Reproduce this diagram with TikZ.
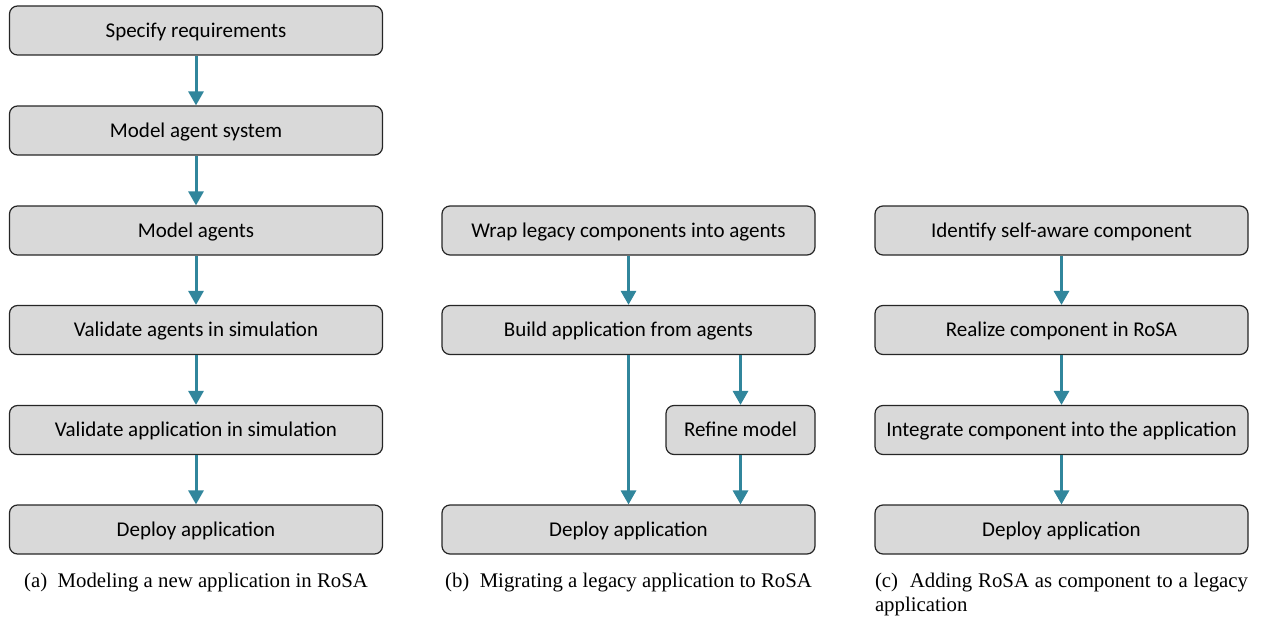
\documentclass[tikz,border=0pt]{standalone}
\usepackage{fontspec}
\setmainfont{Liberation Serif}
\newfontfamily\boxfont{Carlito}
\usepackage{tikz}
\usetikzlibrary{arrows.meta}

\definecolor{flowteal}{RGB}{49,134,156}
\definecolor{boxgray}{RGB}{217,217,217}
\hyphenpenalty=10000

\tikzset{
    stepbox/.style={rectangle, rounded corners=8pt, draw=black!85, line width=1.2pt,
        fill=boxgray, minimum width=373pt, minimum height=49pt, inner sep=0pt,
        text height=16pt, text depth=2.5pt,
        font=\boxfont\fontsize{21}{24}\selectfont},
    flow/.style={draw=flowteal, line width=3pt, -{Triangle[length=14pt, width=15pt]}},
    subcap/.style={font=\fontsize{20.8}{24}\selectfont, inner sep=0pt}
}

\begin{document}
\begin{tikzpicture}[x=1pt, y=-1pt]
            \useasboundingbox (0,0) rectangle (1261,618);

            % Nodes (a)
            \node[stepbox] (a1) at (196, 30.5) {Specify requirements};
            \node[stepbox] (a2) at (196, 130.5) {Model agent system};
            \node[stepbox] (a3) at (196, 230.5) {Model agents};
            \node[stepbox] (a4) at (196, 330) {Validate agents in simulation};
            \node[stepbox] (a5) at (196, 430) {Validate application in simulation};
            \node[stepbox] (a6) at (196, 529.5) {Deploy application};

            % Nodes (b)
            \node[stepbox] (b1) at (628.5, 230.5) {Wrap legacy components into agents};
            \node[stepbox] (b2) at (628.5, 330) {Build application from agents};
            \node[stepbox, minimum width=149pt] (b3) at (740.5, 430) {Refine model};
            \node[stepbox] (b4) at (628.5, 529.5) {Deploy application};

            % Nodes (c)
            \node[stepbox] (c1) at (1061.5, 230.5) {Identify self-aware component};
            \node[stepbox] (c2) at (1061.5, 330) {Realize component in RoSA};
            \node[stepbox] (c3) at (1061.5, 430) {Integrate component into the application};
            \node[stepbox] (c4) at (1061.5, 529.5) {Deploy application};

            % Edges
            \draw[flow] (a1) -- (a2);
            \draw[flow] (a2) -- (a3);
            \draw[flow] (a3) -- (a4);
            \draw[flow] (a4) -- (a5);
            \draw[flow] (a5) -- (a6);
            \draw[flow] (b1) -- (b2);
            \draw[flow] (b2) -- (b4);
            \draw[flow] (b2.south -| b3) -- (b3);
            \draw[flow] (b3) -- (b3 |- b4.north);
            \draw[flow] (c1) -- (c2);
            \draw[flow] (c2) -- (c3);
            \draw[flow] (c3) -- (c4);

            % Captions
            \node[subcap] (capa) at (196, 582.5) {(a)\ \ Modeling a new application in RoSA};
            \node[subcap] (capb) at (628.5, 582.5) {(b)\ \ Migrating a legacy application to RoSA};
            \node[subcap, text width=373pt, align=justify, anchor=north] (capc) at (1061.5, 572.5)
                {(c)\ \ Adding RoSA as component to a legacy application};
        \end{tikzpicture}
\end{document}
